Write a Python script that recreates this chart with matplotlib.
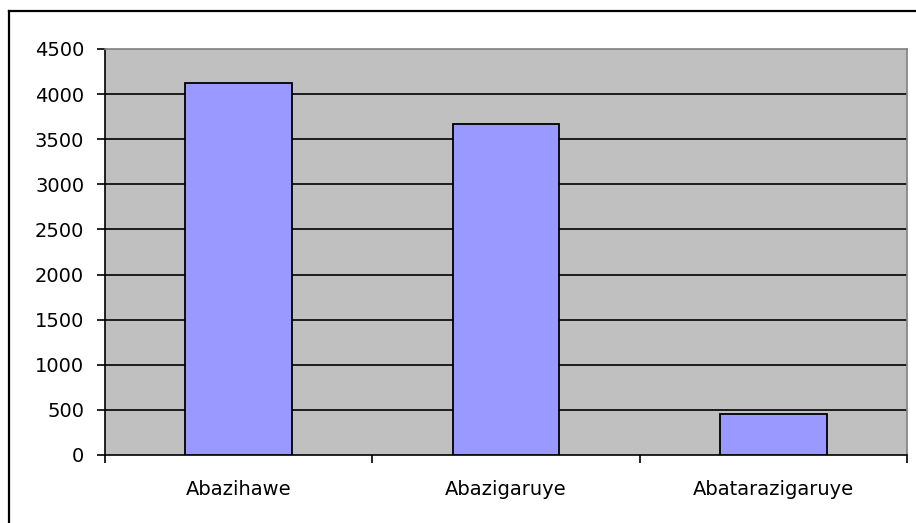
import matplotlib
matplotlib.use("Agg")
import matplotlib.pyplot as plt
from matplotlib.lines import Line2D

categories = ["Abazihawe", "Abazigaruye", "Abatarazigaruye"]
values = [4120, 3670, 450]
yticks = [0, 500, 1000, 1500, 2000, 2500, 3000, 3500, 4000, 4500]

plt.rcParams['font.family'] = ['DejaVu Sans']

W, H = 916, 523
fig = plt.figure(figsize=(W / 100, H / 100), dpi=100)
fig.patch.set_facecolor('white')

# outer chart border (left and top visible)
fig.add_artist(Line2D([8.5 / W, 8.5 / W], [0, 1 - 10.5 / H], transform=fig.transFigure,
                      color='black', lw=1.6))
fig.add_artist(Line2D([8.5 / W, 1], [1 - 10.5 / H, 1 - 10.5 / H], transform=fig.transFigure,
                      color='black', lw=1.6))

left, right, top, bottom = 105, 907, 49, 455
ax = fig.add_axes([left / W, 1 - bottom / H, (right - left) / W, (bottom - top) / H])
ax.set_facecolor('#c0c0c0')

x = list(range(len(categories)))
ax.bar(x, values, width=0.4, color='#9999ff', edgecolor='black', linewidth=1.3, zorder=3)

ax.set_xlim(-0.5, len(categories) - 0.5)
ax.set_ylim(0, 4500)
ax.set_yticks(yticks)
ax.set_yticklabels([str(v) for v in yticks])
for v in yticks[1:-1]:
    ax.axhline(v, color='black', lw=1.2, zorder=1)

ax.set_xticks([i - 0.5 for i in range(len(categories) + 1)], minor=False)
ax.set_xticklabels([])
ax.set_xticks(x, minor=True)
ax.set_xticklabels(categories, minor=True)
ax.tick_params(axis='x', which='major', length=6, width=1.2, direction='out', color='black')
ax.tick_params(axis='x', which='minor', length=0, pad=18, labelsize=14)
ax.tick_params(axis='y', length=6, width=1.2, direction='out', labelsize=14, pad=9)

for s in ['top', 'right']:
    ax.spines[s].set_color('#808080')
    ax.spines[s].set_linewidth(1.2)
for s in ['left', 'bottom']:
    ax.spines[s].set_color('black')
    ax.spines[s].set_linewidth(1.2)

fig.savefig('out.png', dpi=100)
